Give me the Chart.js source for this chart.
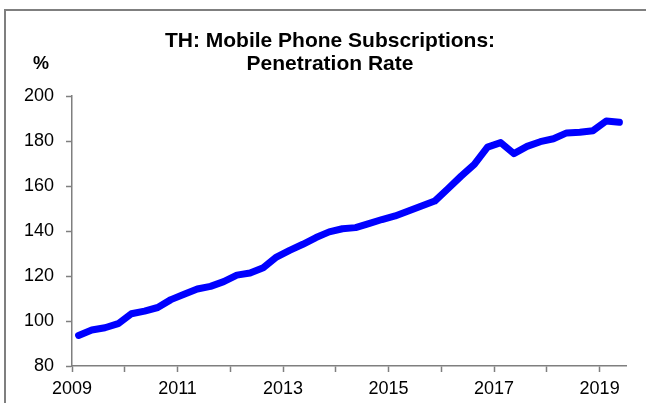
<!DOCTYPE html>
<html>
<head>
<meta charset="utf-8">
<script src="https://cdn.jsdelivr.net/npm/chart.js@4.4.0/dist/chart.umd.min.js"></script>
<style>
  html, body { margin: 0; padding: 0; background: #fff; }
  #wrap { width: 646px; height: 403px; }
</style>
</head>
<body>
<div id="wrap"><canvas id="chart" width="646" height="403"></canvas></div>
<script>
// Quarterly penetration rate, %
const quarters = [
    '2009Q1', '2009Q2', '2009Q3', '2009Q4',
    '2010Q1', '2010Q2', '2010Q3', '2010Q4',
    '2011Q1', '2011Q2', '2011Q3', '2011Q4',
    '2012Q1', '2012Q2', '2012Q3', '2012Q4',
    '2013Q1', '2013Q2', '2013Q3', '2013Q4',
    '2014Q1', '2014Q2', '2014Q3', '2014Q4',
    '2015Q1', '2015Q2', '2015Q3', '2015Q4',
    '2016Q1', '2016Q2', '2016Q3', '2016Q4',
    '2017Q1', '2017Q2', '2017Q3', '2017Q4',
    '2018Q1', '2018Q2', '2018Q3', '2018Q4',
    '2019Q1', '2019Q2'
];
const penetration = [
    93.6, 96.0, 97.0, 98.8,
    103.2, 104.4, 106.0, 109.5,
    111.9, 114.2, 115.4, 117.5,
    120.4, 121.3, 123.7, 128.4,
    131.4, 134.1, 137.1, 139.6,
    141.0, 141.5, 143.3, 145.1,
    146.7, 148.9, 151.1, 153.3,
    158.8, 164.4, 169.6, 177.3,
    179.3, 174.4, 177.6, 179.7,
    181.0, 183.6, 183.9, 184.6,
    188.9, 188.3
];
const labelledYears = [2009, 2011, 2013, 2015, 2017, 2019];
const titleLines = ['TH: Mobile Phone Subscriptions:', 'Penetration Rate'];
const unitLabel = '%';

const FONT = "'Liberation Sans', Arial, sans-serif";
const AXIS_GREY = '#7f7f7f';

// quarter label -> position on a year axis (middle of the quarter)
function quarterPos(q) {
    const year = parseInt(q.slice(0, 4), 10);
    const n = parseInt(q.slice(5), 10);
    return year + (n - 1) / 4 + 0.125;
}

const points = quarters.map((q, i) => ({ x: quarterPos(q), y: penetration[i] }));

// frame + title texts
const decorations = {
    id: 'decorations',
    beforeDraw(chart) {
        const ctx = chart.ctx;
        ctx.save();
        ctx.strokeStyle = AXIS_GREY;
        ctx.lineWidth = 2;
        ctx.beginPath();
        ctx.moveTo(5, 403);
        ctx.lineTo(5, 10);
        ctx.lineTo(646, 10);
        ctx.stroke();
        ctx.restore();
    },
    afterDraw(chart) {
        const ctx = chart.ctx;
        ctx.save();
        ctx.fillStyle = '#000';
        ctx.textAlign = 'center';
        ctx.textBaseline = 'alphabetic';
        ctx.font = 'bold 21px ' + FONT;
        ctx.fillText(titleLines[0], 330, 47);
        ctx.fillText(titleLines[1], 330, 70);
        ctx.font = 'bold 18px ' + FONT;
        ctx.fillText(unitLabel, 41, 69);
        ctx.restore();
    }
};

new Chart(document.getElementById('chart'), {
    type: 'line',
    data: {
        datasets: [{
            data: points,
            borderColor: '#0000ff',
            borderWidth: 7,
            borderCapStyle: 'round',
            borderJoinStyle: 'round',
            pointRadius: 0,
            tension: 0,
            fill: false
        }]
    },
    options: {
        responsive: false,
        animation: false,
        events: [],
        layout: { padding: { left: 0, right: 20, top: 96, bottom: 0 } },
        plugins: {
            legend: { display: false },
            title: { display: false },
            tooltip: { enabled: false }
        },
        scales: {
            x: {
                type: 'linear',
                min: 2009,
                max: 2019.5,
                afterFit: s => { s.height = 37; },
                border: { color: AXIS_GREY, width: 1.5 },
                grid: {
                    drawOnChartArea: false,
                    drawTicks: true,
                    tickLength: 6,
                    tickColor: AXIS_GREY,
                    tickWidth: 1.5
                },
                ticks: {
                    stepSize: 1,
                    autoSkip: false,
                    includeBounds: false,
                    maxRotation: 0,
                    padding: 6,
                    color: '#000',
                    font: { family: FONT, size: 18 },
                    callback: v => labelledYears.includes(v) ? String(v) : ''
                }
            },
            y: {
                min: 80,
                max: 200,
                afterFit: s => { s.width = 72; },
                border: { color: AXIS_GREY, width: 1.5 },
                grid: {
                    drawOnChartArea: false,
                    drawTicks: true,
                    tickLength: 6,
                    tickColor: AXIS_GREY,
                    tickWidth: 1.5
                },
                ticks: {
                    stepSize: 20,
                    padding: 12,
                    color: '#000',
                    font: { family: FONT, size: 18 }
                }
            }
        }
    },
    plugins: [decorations]
});
</script>
</body>
</html>
